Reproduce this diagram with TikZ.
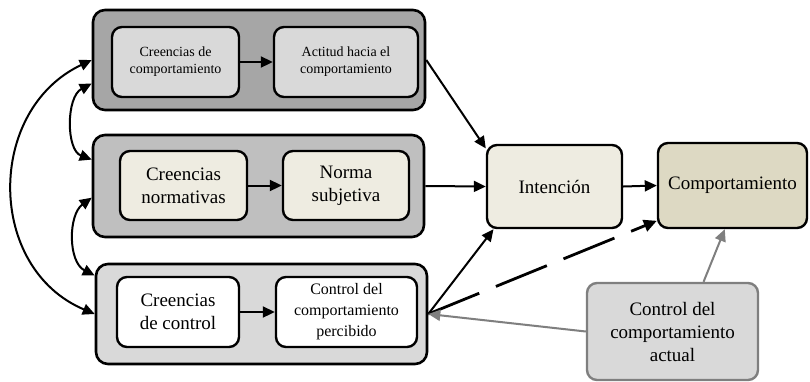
\documentclass[tikz,border=0pt]{standalone}
\usepackage{fontspec}
\setmainfont{Liberation Serif}
\usetikzlibrary{arrows.meta}
\definecolor{grpA}{HTML}{A6A6A6}
\definecolor{grpB}{HTML}{BFBFBF}
\definecolor{grpC}{HTML}{D9D9D9}
\definecolor{lightgray}{HTML}{D9D9D9}
\definecolor{cream}{HTML}{EEECE1}
\definecolor{tan}{HTML}{DDD9C3}
\definecolor{midgray}{HTML}{7F7F7F}
\begin{document}
\begin{tikzpicture}[x=1pt,y=-1pt,
  group/.style={draw, line width=2.6pt, rounded corners=12pt, inner sep=0pt},
  box/.style={draw, line width=2.4pt, rounded corners=10pt, align=center, inner sep=0pt},
  small/.style={font=\fontsize{14}{17}\selectfont},
  large/.style={font=\fontsize{19}{23}\selectfont},
  medium/.style={font=\fontsize{16}{21}\selectfont},
  tip/.style={Triangle[length=12pt,width=11pt]},
  arr/.style={-{Triangle[length=12pt,width=11pt]}, line width=2pt},
  biarr/.style={{Triangle[length=12pt,width=11pt]}-{Triangle[length=12pt,width=11pt]}, line width=2pt},
  grayarr/.style={-{Triangle[length=12pt,width=11pt]}, line width=2pt, draw=midgray, midgray},
]
\useasboundingbox (0,0) rectangle (810,381);

% three groups of beliefs
\node[group, fill=grpA, minimum width=332pt, minimum height=100pt] (outer1) at (259,60) {};
\node[group, fill=grpB, minimum width=331pt, minimum height=102pt] (outer2) at (258.5,186) {};
\node[group, fill=grpC, minimum width=331pt, minimum height=100pt] (outer3) at (261.5,314) {};

% behavioural beliefs and attitude
\node[box, small, fill=lightgray, minimum width=127pt, minimum height=70pt] (cc) at (175.5,62) {Creencias de\\comportamiento};
\node[box, small, fill=lightgray, minimum width=144pt, minimum height=70pt] (ac) at (346,62) {Actitud hacia el\\comportamiento};

% normative beliefs and subjective norm
\node[box, large, fill=cream, minimum width=127pt, minimum height=69pt] (cn) at (183.5,185.5) {Creencias\\normativas};
\node[box, large, fill=cream, minimum width=126pt, minimum height=69pt] (ns) at (346,185.5) {Norma\\subjetiva};

% control beliefs and perceived control
\node[box, large, fill=white, minimum width=122pt, minimum height=70pt] (cdc) at (178,312) {Creencias\\de control};
\node[box, medium, fill=white, minimum width=141pt, minimum height=70pt] (ccp) at (346.5,312) {Control del\\comportamiento\\percibido};

% intention, behaviour, actual control
\node[box, large, fill=cream, minimum width=135pt, minimum height=83pt] (int) at (554.5,186.5) {Intención};
\node[box, large, fill=tan, minimum width=149pt, minimum height=85pt] (comp) at (732.5,185.5) {Comportamiento};
\node[box, large, fill=lightgray, draw=midgray, minimum width=171pt, minimum height=97pt] (act) at (672.5,331.5) {Control del\\comportamiento\\actual};

% arrows inside the groups
\draw[arr] (cc) -- (ac);
\draw[arr] (cn) -- (ns);
\draw[arr] (cdc) -- (ccp);

% towards intention and behaviour
\draw[arr] (outer1.east) -- (int.151.6);
\draw[arr] (outer2.east) -- (int.west);
\draw[arr] (outer3.east) -- (int.215.8);
\draw[arr] (int.east) -- (comp.west);
\draw[-{Triangle[length=13pt,width=12pt]}, line width=2.8pt, dash pattern=on 55pt off 18pt] (outer3.east) -- (comp.205.8);
\draw[grayarr] (act.west) -- (outer3.east);
\draw[grayarr] (act.58.7) -- (comp.260);

% correlations between the belief groups
\draw[biarr] (outer1.west) .. controls (-14,110) and (-14,268) .. (outer3.west);
\draw[biarr] (outer1.188.6) .. controls (66,97) and (66,150) .. (outer2.171.7);
\draw[biarr] (outer2.184.8) .. controls (68,215) and (68,262) .. (outer3.167.4);
\end{tikzpicture}
\end{document}
